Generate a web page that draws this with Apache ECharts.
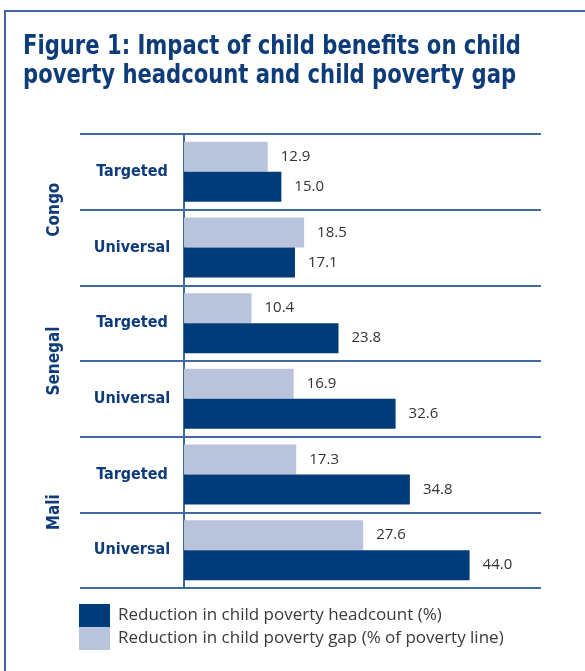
<!DOCTYPE html>
<html>
<head>
<meta charset="utf-8">
<script src="https://cdn.jsdelivr.net/npm/echarts@6/dist/echarts.min.js"></script>
<style>
  html, body { margin: 0; padding: 0; background: #fff; }
  #chart { width: 585px; height: 671px; }
</style>
</head>
<body>
<div id="chart"></div>
<script>
// categories, top to bottom
var schemes = ['Targeted', 'Universal', 'Targeted', 'Universal', 'Targeted', 'Universal'];
var countries = ['Congo', 'Senegal', 'Mali'];
// reduction in child poverty headcount (%)
var headcount = [15.0, 17.1, 23.8, 32.6, 34.8, 44.0];
// reduction in child poverty gap (% of poverty line)
var gap = [12.9, 18.5, 10.4, 16.9, 17.3, 27.6];

var headName = 'Reduction in child poverty headcount (%)';
var gapName = 'Reduction in child poverty gap (% of poverty line)';
var titleText = 'Figure 1: Impact of child benefits on child\npoverty headcount and child poverty gap';

var navy = '#003b7a', pale = '#bac3dc', rule = '#3f69a2', ink = '#0e3c7a';
var narrow = '"DejaVu Sans Condensed", "DejaVu Sans", sans-serif';

var chart = echarts.init(document.getElementById('chart'), null, {renderer: 'canvas'});

var valLabel = {
  show: true, position: 'right', distance: 13,
  color: '#333', fontSize: 15, fontFamily: '"Open Sans", sans-serif',
  formatter: function (p) { return p.value.toFixed(1); }
};

chart.setOption({
  animation: false,
  graphic: [{
    // frame: only top and left edges fall inside the page
    type: 'rect', silent: true,
    shape: { x: 5, y: 11, width: 700, height: 800 },
    style: { fill: 'none', stroke: rule, lineWidth: 2 }
  }, {
    // title, squeezed to mimic the condensed face
    type: 'text', x: 23, y: 32, scaleX: 0.87, silent: true,
    style: {
      text: titleText, fill: ink, fontSize: 27, fontWeight: 'bold',
      fontFamily: narrow, lineHeight: 29
    }
  }],
  legend: {
    data: [headName, gapName],
    orient: 'vertical', left: 79, top: 604, padding: 0,
    itemWidth: 31, itemHeight: 23, itemGap: 0, icon: 'rect',
    textStyle: { color: '#3a3a3a', fontSize: 17, fontFamily: '"Open Sans", sans-serif', padding: [0, 0, 0, 3] }
  },
  grid: { left: 184, right: 44, top: 134, bottom: 83, containLabel: false },
  xAxis: {
    type: 'value', min: 0, max: 55,
    axisLine: { show: false }, axisTick: { show: false },
    axisLabel: { show: false }, splitLine: { show: false }
  },
  yAxis: [{
    type: 'category', data: schemes, inverse: true,
    axisLine: { show: true, lineStyle: { color: rule, width: 2 } },
    axisTick: { show: true, length: 104, lineStyle: { color: rule, width: 2 } },
    splitLine: { show: true, lineStyle: { color: rule, width: 2 } },
    axisLabel: {
      color: ink, fontSize: 16, fontWeight: 'bold', fontFamily: narrow,
      align: 'center', margin: 52
    }
  }, {
    type: 'category', data: countries, inverse: true, position: 'left',
    axisLine: { show: false }, axisTick: { show: false }, splitLine: { show: false },
    axisLabel: {
      rotate: 90, color: ink, fontSize: 17, fontWeight: 'bold', fontFamily: narrow,
      align: 'center', verticalAlign: 'middle', margin: 129
    }
  }],
  series: [{
    name: gapName, type: 'bar', data: gap, yAxisIndex: 0,
    barWidth: 30, barGap: '0%',
    itemStyle: { color: pale }, label: valLabel
  }, {
    name: headName, type: 'bar', data: headcount, yAxisIndex: 0,
    barWidth: 30, barGap: '0%',
    itemStyle: { color: navy }, label: valLabel
  }]
});
</script>
</body>
</html>
